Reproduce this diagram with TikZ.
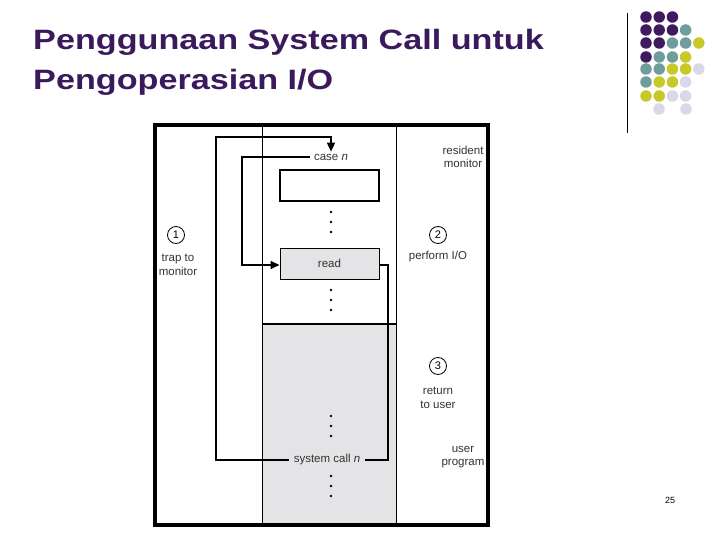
\documentclass[tikz,border=0pt]{standalone}
\usepackage{fontspec}
\setmainfont{Liberation Sans}
\usetikzlibrary{arrows.meta}
\definecolor{tp}{HTML}{3A1A5C}
\definecolor{cP}{HTML}{3F1A5F}
\definecolor{cT}{HTML}{6F9C9C}
\definecolor{cY}{HTML}{C8C828}
\definecolor{cL}{HTML}{D8D8E8}
\definecolor{gr}{HTML}{E4E3E6}
\tikzset{lbl/.style={font=\fontsize{11.5}{13.5}\selectfont,text=black!80,inner sep=0pt},
 ln/.style={line width=1.6pt},
 arr/.style={ln,-{Triangle[length=9pt,width=8pt]}},
 num/.style={circle,draw,line width=0.8pt,minimum size=17pt,inner sep=0pt,font=\fontsize{11}{13}\selectfont},
 dot/.style={circle,fill=black,inner sep=0pt,minimum size=2.6pt},
 pal/.style={circle,inner sep=0pt,minimum size=11.5pt},
 ttl/.style={anchor=base west,text=tp,font=\fontsize{28}{30}\selectfont\bfseries,inner sep=0pt,xscale=1.22}}
\begin{document}
\begin{tikzpicture}[x=1pt,y=-1pt]
\useasboundingbox (0,0) rectangle (720,540);
\fill[white] (0,0) rectangle (720,540);
% title
\node[ttl] (title1) at (33,50) {Penggunaan System Call untuk};
\node[ttl] (title2) at (33,90) {Pengoperasian I/O};
% palette
\draw[line width=0.8pt] (627,13) -- (627,133);
\foreach \r/\row in {17/{P,P,P},30/{P,P,P,T},43/{P,P,T,T,Y},57/{P,T,T,Y},69/{T,T,Y,Y,L},82/{T,Y,Y,L},96/{Y,Y,L,L}}{
  \foreach \c [count=\i] in \row {
    \pgfmathsetmacro{\xx}{646+13.2*(\i-1)}
    \node[pal,fill=c\c] at (\xx,\r) {};
  }}
\node[pal,fill=cL] at (659,109) {};
\node[pal,fill=cL] at (686,109) {};
% diagram
\fill[gr] (262,324) rectangle (396,524);
\begin{scope}
\clip (158,127) rectangle (486,524);
\node[lbl,align=center] (res) at (463,157) {resident\\monitor};
\node[lbl,align=center] (usr) at (463,457) {user\\program};
\node[lbl,align=center] (trap) at (178,265) {trap to\\monitor};
\end{scope}
\draw[line width=1pt] (262,127) -- (262,524);
\draw[line width=1pt] (396,127) -- (396,524);
\draw[line width=2.2pt] (262,324) -- (396,324);
\draw[line width=3.5pt] (155,125) rectangle (488,525);
\node[draw,line width=1.2pt,minimum width=99pt,minimum height=31pt,inner sep=0pt] (box) at (329.5,185.5) {};
\node[draw,line width=1pt,fill=gr,minimum width=99pt,minimum height=31pt,inner sep=0pt,lbl] (read) at (329.5,263.5) {read};
\node[lbl,fill=white,inner xsep=4pt,inner ysep=2pt] (case) at (331,157) {case \textit{n}};
\node[lbl,fill=gr,inner xsep=5pt,inner ysep=2pt] (sys) at (327,460) {system call \textit{n}};
\foreach \y in {212,222,232,290,300,310,416,426,436,476,486,496} \node[dot] at (331,\y) {};
\node[num] (n1) at (176,235) {1};
\node[num] (n2) at (438,235) {2};
\node[num] (n3) at (438,366) {3};
\node[lbl] (pio) at (438,257) {perform I/O};
\node[lbl,align=center] (ret) at (438,398) {return\\to user};
\coordinate (a1) at (216,460); \coordinate (a2) at (216,137); \coordinate (a3) at (331,137);
\draw[arr] (sys.west) -- (a1) -- (a2) -- (a3) -- (case.north);
\coordinate (b1) at (242,157); \coordinate (b2) at (242,265);
\draw[arr] (case.west) -- (b1) -- (b2) -- (read.west|-b2);
\coordinate (c1) at (388,265); \coordinate (c2) at (388,460);
\draw[ln] (read.east|-c1) -- (c1) -- (c2) -- (sys.east);
\node[font=\fontsize{9}{11}\selectfont,inner sep=0pt] (pg) at (670,500) {25};
\end{tikzpicture}
\end{document}
